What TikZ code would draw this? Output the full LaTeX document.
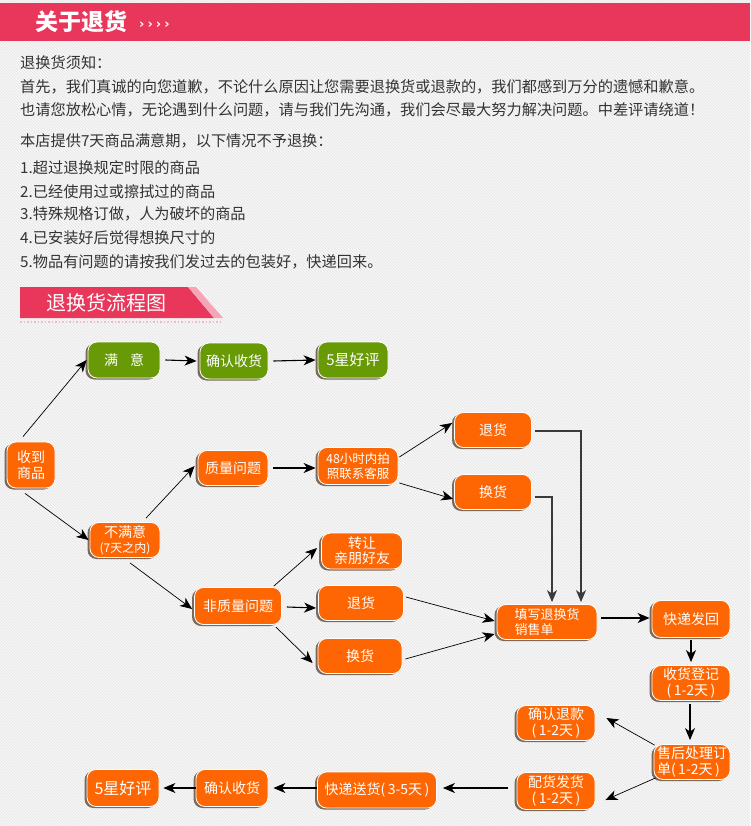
\documentclass[tikz,border=0pt]{standalone}
\usepackage{fontspec}
\setmainfont{Noto Sans CJK SC}
\newfontfamily\dvfont{DejaVu Sans}
\usetikzlibrary{arrows.meta,shadows,calc,patterns}
\definecolor{orng}{HTML}{FD6603}
\definecolor{grn}{HTML}{689A06}
\definecolor{bannerc}{HTML}{E8375B}
\definecolor{shad}{HTML}{7B6A5A}
\definecolor{txt}{HTML}{333333}
\definecolor{bgc}{HTML}{F7F7F7}
\definecolor{hatch}{HTML}{E4E4E4}
\definecolor{elbc}{HTML}{3A3A3A}
\newcommand{\dd}[1]{(\hspace{2.5pt}#1\hspace{2.5pt})}
\tikzset{
  box/.style={rounded corners=9pt, fill=orng, draw=white, line width=0.8pt, text=white,
    inner sep=0.5pt, align=center, font=\fontsize{14}{16}\selectfont,
    general shadow={fill=shad, shadow xshift=-2.5pt, shadow yshift=-1.5pt}},
  gbox/.style={box, fill=grn},
  arr/.style={-{Stealth[length=12pt,width=10pt,inset=3.5pt]}, line width=1.1pt, black},
  tarr/.style={arr, line width=0.7pt},
  earr/.style={arr, line width=1.1pt, draw=elbc, color=elbc},
  line/.style={anchor=west, inner sep=0pt, text=txt, font=\fontsize{15.2}{15.2}\selectfont}
}
\begin{document}
\begin{tikzpicture}[x=1pt,y=-1pt]
\fill[bgc] (0,0) rectangle (750,826);
\fill[pattern=north west lines, pattern color=hatch] (0,0) rectangle (750,826);
\useasboundingbox (0,0) rectangle (750,826);
% header bar
\fill[bannerc] (0,3) rectangle (750,41);
\node[anchor=west, inner sep=0pt, text=white, font=\bfseries\fontsize{23}{23}\selectfont] (ttl) at (35,22) {关于退货};
\node[anchor=west, inner sep=0pt, text=white, font=\dvfont\bfseries\fontsize{13}{13}\selectfont] (chev) at (139,25) {›\hspace{3pt}›\hspace{3pt}›\hspace{3pt}›};
% notes
\node[line] (t1) at (20,63) {退换货须知：};
\node[line] (t2) at (20,87) {首先，我们真诚的向您道歉，不论什么原因让您需要退换货或退款的，我们都感到万分的遗憾和歉意。};
\node[line] (t3) at (20,110) {也请您放松心情，无论遇到什么问题，请与我们先沟通，我们会尽最大努力解决问题。中差评请绕道！};
\node[line] (t4) at (20,141) {本店提供7天商品满意期，以下情况不予退换：};
\node[line] (t5) at (20,168) {1.超过退换规定时限的商品};
\node[line] (t6) at (20,192) {2.已经使用过或擦拭过的商品};
\node[line] (t7) at (20,214) {3.特殊规格订做，人为破坏的商品};
\node[line] (t8) at (20,238) {4.已安装好后觉得想换尺寸的};
\node[line] (t9) at (20,262) {5.物品有问题的请按我们发过去的包装好，快递回来。};
% section banner
\fill[bannerc] (20,287) -- (188,287) -- (214,318) -- (20,318) -- cycle;
\fill[bannerc!45!white] (188,287) -- (196,287) -- (223,318) -- (214,318) -- cycle;
\draw[bannerc!35!white, dotted, line width=1.5pt] (20,322) -- (223,322);
\node[anchor=west, inner sep=0pt, text=white, font=\fontsize{20}{20}\selectfont] (sec) at (46,303) {退换货流程图};
% nodes
\node[box, minimum width=48pt, minimum height=46pt] (sd) at (31,465) {收到\\商品};
\node[gbox, minimum width=72pt, minimum height=36pt] (my) at (124,360) {满\hspace{12pt}意};
\node[gbox, minimum width=68pt, minimum height=36pt] (qr1) at (234,361) {确认收货};
\node[gbox, minimum width=70pt, minimum height=36pt, font=\fontsize{15}{16}\selectfont] (hp1) at (353,360) {5星好评};
\node[box, minimum width=70pt, minimum height=35pt] (bmy) at (125,540) {不满意\\[-1pt]{\fontsize{12}{13}\selectfont(7天之内)}};
\node[box, minimum width=70pt, minimum height=35pt] (zl) at (233,468) {质量问题};
\node[box, minimum width=80pt, minimum height=37pt, font=\fontsize{12.5}{15}\selectfont] (h48) at (358,466) {48小时内拍\\照联系客服};
\node[box, minimum width=77pt, minimum height=35pt] (th1) at (493,430) {退货};
\node[box, minimum width=77pt, minimum height=35pt] (hh1) at (493,492) {换货};
\node[box, minimum width=87pt, minimum height=37pt] (fzl) at (238,606) {非质量问题};
\node[box, minimum width=81pt, minimum height=36pt, font=\fontsize{14}{15}\selectfont] (zr) at (362,551) {转让\\亲朋好友};
\node[box, minimum width=85pt, minimum height=35pt] (th2) at (361,603) {退货};
\node[box, minimum width=84pt, minimum height=35pt] (hh2) at (360,656) {换货};
\node[box, minimum width=100pt, minimum height=35pt, align=left, font=\fontsize{13}{15}\selectfont] (tx) at (547,622) {填写退换货\\销售单};
\node[box, minimum width=78pt, minimum height=37pt] (kd) at (691,619) {快递发回};
\node[box, minimum width=78pt, minimum height=35pt, font=\fontsize{14}{15.5}\selectfont] (sh) at (691,683) {收货登记\\\dd{1-2天}};
\node[box, minimum width=78pt, minimum height=35pt, font=\fontsize{14}{15.5}\selectfont] (qtk) at (556,723) {确认退款\\\dd{1-2天}};
\node[box, minimum width=76pt, minimum height=35pt, align=left, font=\fontsize{14}{15.5}\selectfont] (shcl) at (692,762) {售后处理订\\单\dd{1-2天}};
\node[box, minimum width=78pt, minimum height=37pt, font=\fontsize{14}{15.5}\selectfont] (ph) at (556,791) {配货发货\\\dd{1-2天}};
\node[box, minimum width=119pt, minimum height=36pt] (ks) at (377,790) {快递送货\dd{3-5天}};
\node[box, minimum width=72pt, minimum height=37pt] (qr2) at (232,788) {确认收货};
\node[box, minimum width=72pt, minimum height=37pt, font=\fontsize{16}{16}\selectfont] (hp2) at (123,788) {5星好评};
% connectors
\draw[tarr] ([shift={(-8,-5)}]sd.north) -- ([xshift=-1]my.west);
\draw[arr] ([xshift=5]my.east) -- ([xshift=-3]qr1.west);
\draw[arr] ([xshift=5]qr1.east) -- ([xshift=-2]hp1.west);
\draw[tarr] ([shift={(-6,5)}]sd.south) -- ([xshift=-1]bmy.west);
\draw[tarr] ([shift={(21,-4)}]bmy.north) -- ([shift={(-3,-2)}]zl.west);
\draw[tarr] ([shift={(5,5)}]bmy.south) -- ([shift={(-2,3)}]fzl.west);
\draw[arr] ([xshift=5]zl.east) -- ([shift={(-2,2)}]h48.west);
\draw[tarr] ([shift={(1,-9)}]h48.east) -- ([shift={(-2,-7)}]th1.west);
\draw[tarr] ([shift={(1,17)}]h48.east) -- ([shift={(-1,7)}]hh1.west);
\draw[tarr] ([shift={(-8,-20)}]fzl.east) -- ([shift={(-4,-3)}]zr.west);
\draw[arr] ([shift={(5,1)}]fzl.east) -- ([shift={(-2,5)}]th2.west);
\draw[tarr] ([shift={(-6,21)}]fzl.east) -- ([shift={(-5,7)}]hh2.west);
\draw[tarr] ([shift={(2,-6)}]th2.east) -- ([shift={(-2,-1)}]tx.west);
\draw[tarr] ([shift={(3,3)}]hh2.east) -- ([shift={(-2,12)}]tx.west);
\draw[earr] ([shift={(3,5)}]hh1.east) -| ([shift={(5,-2)}]tx.north);
\draw[earr] ([shift={(3,1)}]th1.east) -| ([shift={(34,-2)}]tx.north);
\draw[arr] ([shift={(4,-4)}]tx.east) -- ([shift={(-2,-1)}]kd.west);
\draw[arr] ([shift={(0,2)}]kd.south) -- ([shift={(0,-3)}]sh.north);
\draw[arr] ([shift={(-1,3)}]sh.south) -- ([shift={(-2,-4)}]shcl.north);
\draw[tarr] ([shift={(1,1)}]shcl.north west) -- ([shift={(11,-5)}]qtk.east);
\draw[tarr] ([shift={(2,-2)}]shcl.south west) -- ([shift={(10,9)}]ph.east);
\draw[arr] ([shift={(-9,-3)}]ph.west) -- ([shift={(6,-2)}]ks.east);
\draw[arr] ([shift={(0,-2)}]ks.west) -- ([xshift=5]qr2.east);
\draw[arr] (qr2.west) -- ([xshift=4]hp2.east);
\end{tikzpicture}
\end{document}
